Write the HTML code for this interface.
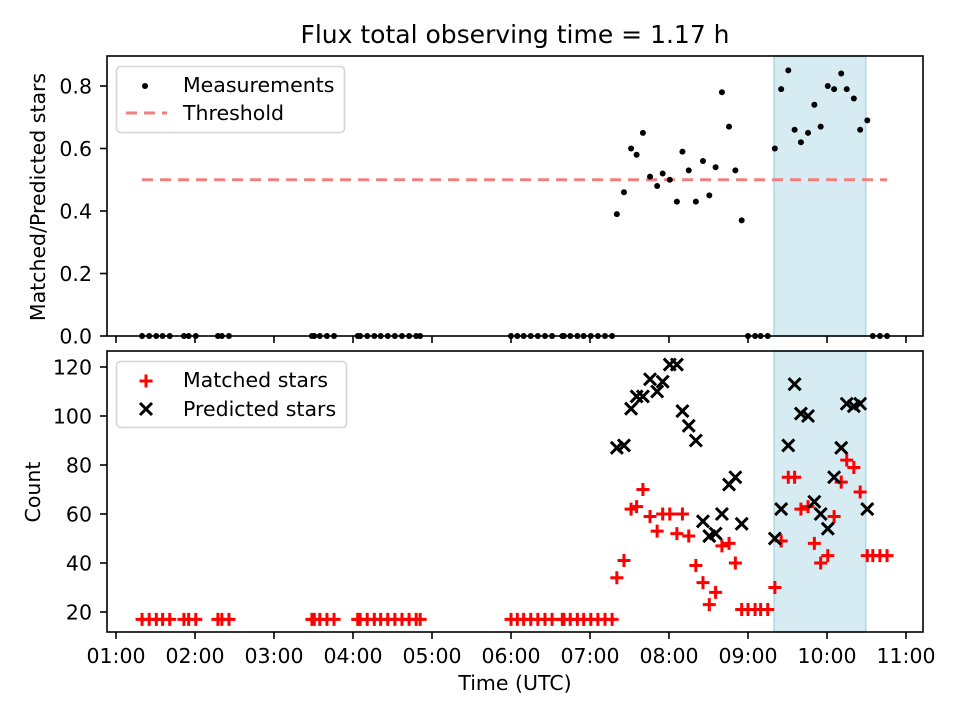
<!DOCTYPE html>
<html><head><meta charset="utf-8"><style>
body{margin:0;background:#fff}
svg text{font-family:"DejaVu Sans","Liberation Sans",sans-serif;fill:#000}
</style></head><body>
<svg id="chart" width="960" height="720" viewBox="0 0 960 720" xmlns="http://www.w3.org/2000/svg" style="position:absolute;left:0;top:0">
<rect width="960" height="720" fill="#fff"/>
<text x="515" y="43" font-size="25" text-anchor="middle">Flux total observing time = 1.17 h</text>
<g id="topAx"></g><g id="botAx"></g>
</svg>
<script>
// times in hours (UTC)
const zeroTimes=[1.33,1.42,1.51,1.59,1.68,1.86,1.92,2.01,2.29,2.34,2.43,3.48,3.51,3.58,3.67,3.76,4.06,4.09,4.18,4.27,4.35,4.44,4.53,4.62,4.71,4.80,4.85,6.00,6.08,6.16,6.25,6.34,6.43,6.52,6.65,6.67,6.75,6.84,6.92,7.01,7.10,7.19,7.28];
const zeroCounts=[17,17,17,17,17,17,17,17,17,17,17,17,17,17,17,17,17,17,17,17,17,17,17,17,17,17,17,17,17,17,17,17,17,17,17,17,17,17,17,17,17,17,17];
const activeTimes=[7.34,7.43,7.52,7.59,7.67,7.76,7.85,7.92,8.01,8.10,8.17,8.25,8.34,8.43,8.51,8.59,8.67,8.76,8.84,8.92,9.34,9.42,9.51,9.59,9.67,9.76,9.84,9.92,10.01,10.09,10.18,10.25,10.34,10.42,10.51];
const activeRatio=[0.39,0.46,0.60,0.58,0.65,0.51,0.48,0.52,0.50,0.43,0.59,0.53,0.43,0.56,0.45,0.54,0.78,0.67,0.53,0.37,0.60,0.79,0.85,0.66,0.62,0.65,0.74,0.67,0.80,0.79,0.84,0.79,0.76,0.66,0.69];
const activeMatched=[34,41,62,63,70,59,53,60,60,52,60,51,39,32,23,28,47,48,40,21,30,49,75,75,62,63,48,40,43,59,73,82,79,69,43];
const activePredicted=[87,88,103,108,108,115,110,114,121,121,102,96,90,57,51,52,60,72,75,56,50,62,88,113,101,100,65,60,54,75,87,105,104,105,62];
const lateTimes=[9.00,9.09,9.16,9.25,10.58,10.67,10.76];
const lateMatched=[21,21,21,21,43,43,43];
const threshold=0.5;
const shadeRange=[9.33,10.49];
const xTickHours=[1,2,3,4,5,6,7,8,9,10,11];
const xTickLabels=["01:00","02:00","03:00","04:00","05:00","06:00","07:00","08:00","09:00","10:00","11:00"];
const topTicks=[0,0.2,0.4,0.6,0.8];
const botTicks=[20,40,60,80,100,120];

const NS="http://www.w3.org/2000/svg";
const L=107,R=923,T1=56,B1=336,T2=351,B2=632;
const FS=20.5;
const X=h=>116+(h-1)*79;
const Y1=v=>336-v*312.5;
const Y2=c=>612-(c-20)*2.45;
function mk(tag,attrs,parent,txt){const e=document.createElementNS(NS,tag);for(const k in attrs)e.setAttribute(k,attrs[k]);if(txt!==undefined)e.textContent=txt;parent.appendChild(e);return e;}
const gTop=document.getElementById('topAx'),gBot=document.getElementById('botAx');

for(const [g,t,b] of [[gTop,T1,B1],[gBot,T2,B2]]){
 const s=mk('rect',{x:X(shadeRange[0]),y:t,width:X(shadeRange[1])-X(shadeRange[0]),height:b-t,fill:'#add8e6','fill-opacity':0.5,stroke:'#add8e6','stroke-width':1.5},g);
 
 
}
const allT=zeroTimes.concat(activeTimes,lateTimes);
const tmin=Math.min(...allT),tmax=Math.max(...allT);
const th=mk('line',{x1:X(tmin),x2:X(tmax),y1:Y1(threshold),y2:Y1(threshold),stroke:'#f08080','stroke-width':3,'stroke-dasharray':'11,7'},gTop);


const topT=zeroTimes.concat(activeTimes,lateTimes);
const topV=zeroTimes.map(()=>0).concat(activeRatio,lateTimes.map(()=>0));
topT.forEach((t,i)=>{const c=mk('circle',{cx:X(t),cy:Y1(topV[i]),r:3,fill:'#000'},gTop);
 
 });
function plus(x,y,p){return mk('path',{d:`M${x-6.5},${y}H${x+6.5}M${x},${y-6.5}V${y+6.5}`,stroke:'#f00','stroke-width':3},p);}
function cross(x,y,p){return mk('path',{d:`M${x-6},${y-6}L${x+6},${y+6}M${x-6},${y+6}L${x+6},${y-6}`,stroke:'#000','stroke-width':3},p);}
const mT=zeroTimes.concat(activeTimes,lateTimes),mV=zeroCounts.concat(activeMatched,lateMatched);
mT.forEach((t,i)=>{const e=plus(X(t),Y2(mV[i]),gBot);
 
 });
activeTimes.forEach((t,i)=>{const e=cross(X(t),Y2(activePredicted[i]),gBot);
 
 });
for(const [g,t,b,n] of [[gTop,T1,B1,'top-axes-frame'],[gBot,T2,B2,'bottom-axes-frame']]){
 const f=mk('rect',{x:L,y:t,width:R-L,height:b-t,fill:'none',stroke:'#000','stroke-width':1.6},g);
 
 
 xTickHours.forEach(h=>mk('line',{x1:X(h),x2:X(h),y1:b,y2:b+7,stroke:'#000','stroke-width':1.6},g));
}
xTickHours.forEach((h,i)=>{const e=mk('text',{x:X(h),y:B2+31,'font-size':FS,'text-anchor':'middle'},gBot,xTickLabels[i]);
 
 });
topTicks.forEach(v=>{mk('line',{x1:L-7,x2:L,y1:Y1(v),y2:Y1(v),stroke:'#000','stroke-width':1.6},gTop);
 const e=mk('text',{x:L-15,y:Y1(v)+7.5,'font-size':FS,'text-anchor':'end'},gTop,v.toFixed(1));
 
 });
botTicks.forEach(v=>{mk('line',{x1:L-7,x2:L,y1:Y2(v),y2:Y2(v),stroke:'#000','stroke-width':1.6},gBot);
 const e=mk('text',{x:L-15,y:Y2(v)+7.5,'font-size':FS,'text-anchor':'end'},gBot,String(v));
 
 });
</script>
<svg style="position:absolute;left:0;top:0" width="960" height="720" xmlns="http://www.w3.org/2000/svg">
<text x="515" y="690" font-size="20.5" text-anchor="middle" style="font-family:'DejaVu Sans',sans-serif">Time (UTC)</text>
<text transform="translate(45,197) rotate(-90)" font-size="20.5" text-anchor="middle" style="font-family:'DejaVu Sans',sans-serif">Matched/Predicted stars</text>
<text transform="translate(40,492) rotate(-90)" font-size="20.5" text-anchor="middle" style="font-family:'DejaVu Sans',sans-serif">Count</text>
<g style="font-family:'DejaVu Sans',sans-serif">
<rect x="116.5" y="66.5" width="228" height="66" rx="4" fill="#fff" fill-opacity="0.8" stroke="#d6d6d6" stroke-width="1.6"/>
<circle cx="145" cy="86" r="3" fill="#000"/>
<text x="183" y="92" font-size="20.5">Measurements</text>
<line x1="126" x2="167" y1="113" y2="113" stroke="#f08080" stroke-width="3" stroke-dasharray="11,7"/>
<text x="183" y="120" font-size="20.5">Threshold</text>
</g>
<g style="font-family:'DejaVu Sans',sans-serif">
<rect x="116.5" y="361.5" width="230" height="66" rx="4" fill="#fff" fill-opacity="0.8" stroke="#d6d6d6" stroke-width="1.6"/>
<path d="M139.5,381H152.5M146,374.5V387.5" stroke="#f00" stroke-width="3"/>
<text x="183" y="387" font-size="20.5">Matched stars</text>
<path d="M140,403L152,415M140,415L152,403" stroke="#000" stroke-width="3"/>
<text x="183" y="416" font-size="20.5">Predicted stars</text>
</g>
</svg>
</body></html>
